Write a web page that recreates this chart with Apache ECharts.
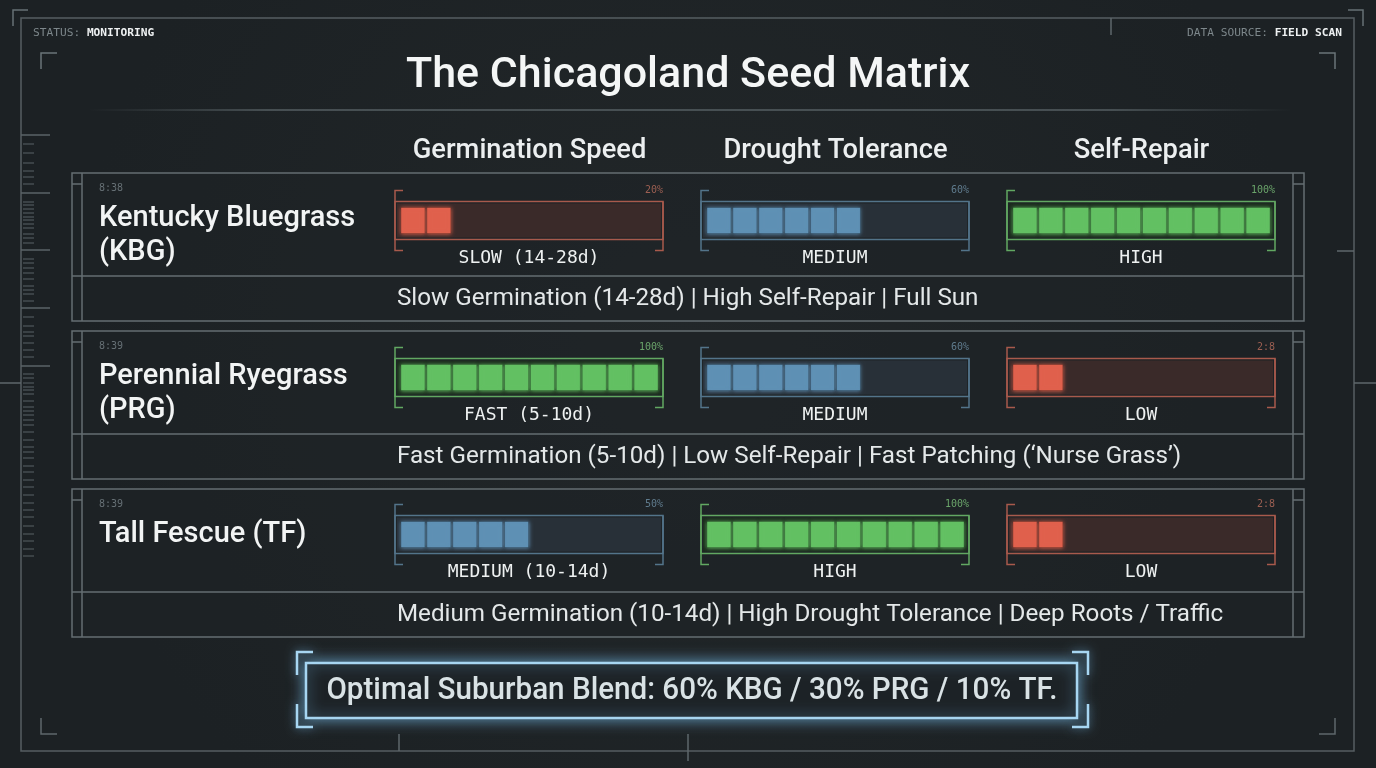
<!DOCTYPE html>
<html>
<head>
<meta charset="utf-8">
<script src="https://cdn.jsdelivr.net/npm/echarts@6.0.0/dist/echarts.min.js"></script>
<style>
html,body{margin:0;padding:0;background:#1f2427;}
#chart{width:1376px;height:768px;}
</style>
</head>
<body>
<div id="chart"></div>
<script>
// ---------- DATA ----------
const species = ['Kentucky Bluegrass\n(KBG)', 'Perennial Ryegrass\n(PRG)', 'Tall Fescue (TF)'];
const scanTimes = ['8:38', '8:39', '8:39'];
const metrics = ['Germination Speed', 'Drought Tolerance', 'Self-Repair'];
const germination = [20, 100, 50];
const drought = [60, 60, 100];
const selfRepair = [100, 20, 20];
const germinationLabels = ['SLOW (14-28d)', 'FAST (5-10d)', 'MEDIUM (10-14d)'];
const droughtLabels = ['MEDIUM', 'MEDIUM', 'HIGH'];
const selfRepairLabels = ['HIGH', 'LOW', 'LOW'];
const germinationTags = ['20%', '100%', '50%'];
const droughtTags = ['60%', '60%', '100%'];
const selfRepairTags = ['100%', '2:8', '2:8'];
const descriptions = [
  'Slow Germination (14-28d) | High Self-Repair | Full Sun',
  'Fast Germination (5-10d) | Low Self-Repair | Fast Patching (\u2018Nurse Grass\u2019)',
  'Medium Germination (10-14d) | High Drought Tolerance | Deep Roots / Traffic'
];
const blendText = 'Optimal Suburban Blend: 60% KBG / 30% PRG / 10% TF.';
const statusLabel = ['STATUS:', 'MONITORING'];
const sourceLabel = ['DATA SOURCE:', 'FIELD SCAN'];
const title = 'The Chicagoland Seed Matrix';

// ---------- STYLE ----------
const LINE = '#646e72';
const MONO = '"DejaVu Sans Mono", "Liberation Mono", monospace';
const SANS = 'Roboto, "Noto Sans", sans-serif';
const palettes = {
  low:  {seg:'#e0604c', fill:'#3a2a29', border:'#a85a4c', tag:'#9c5f52'},
  mid:  {seg:'#5e90b4', fill:'#283038', border:'#53748a', tag:'#5f7b8d'},
  high: {seg:'#62c062', fill:'#1b2a1d', border:'#62a862', tag:'#6aa46a'}
};
function paletteFor(v){ return v <= 30 ? palettes.low : (v <= 70 ? palettes.mid : palettes.high); }

const columns = [
  {values: germination, labels: germinationLabels, tags: germinationTags},
  {values: drought, labels: droughtLabels, tags: droughtTags},
  {values: selfRepair, labels: selfRepairLabels, tags: selfRepairTags}
];
const gridLefts = [400, 706, 1012];
const gridWidth = 259;
const gridTop = 142, gridHeight = 471;

const chart = echarts.init(document.getElementById('chart'), null, {renderer:'canvas'});

function makeRender(colIdx){
  const col = columns[colIdx];
  return function(params, api){
    const v = api.value(0);
    const yIdx = api.value(1);
    const p0 = api.coord([0, yIdx]);
    const p1 = api.coord([100, yIdx]);
    const cy = p0[1];
    const x0 = p0[0], x1 = p1[0];
    const pal = paletteFor(v);
    const L = x0 - 5, R = x1 + 4;
    const children = [];
    children.push({type:'rect', shape:{x:L+2, y:cy-17, width:R-L-4, height:34}, style:{fill:pal.fill}});
    children.push({type:'rect', shape:{x:L, y:cy-19, width:R-L, height:38}, style:{fill:null, stroke:pal.border, lineWidth:1.5}});
    children.push({type:'polyline', shape:{points:[[L+8,cy-30],[L,cy-30],[L,cy+30],[L+8,cy+30]]}, style:{fill:null, stroke:pal.border, lineWidth:1.5}});
    children.push({type:'polyline', shape:{points:[[R,cy-19],[R,cy+30],[R-8,cy+30]]}, style:{fill:null, stroke:pal.border, lineWidth:1.5}});
    const n = Math.round(v / 10);
    for (let i = 0; i < n; i++){
      const a = api.coord([i*10, yIdx])[0];
      const b = api.coord([(i+1)*10, yIdx])[0];
      children.push({type:'rect', shape:{x:a+1, y:cy-13, width:b-a-2, height:26},
        style:{fill:pal.seg, stroke:'rgba(0,0,0,0.25)', lineWidth:0.8, shadowBlur:4, shadowColor:pal.seg}});
    }
    children.push({type:'text', x:R, y:cy-30, style:{text:col.tags[params.dataIndex], fill:pal.tag,
      font:'10px ' + MONO, align:'right', verticalAlign:'middle'}});
    children.push({type:'text', x:(L+R)/2, y:cy+38, style:{text:col.labels[params.dataIndex], fill:'#eef1f1',
      font:'18px ' + MONO, align:'center', verticalAlign:'middle'}});
    return {type:'group', children};
  };
}

const grids = [], xAxes = [], yAxes = [], series = [];
columns.forEach((col, i) => {
  grids.push({left:gridLefts[i], top:gridTop, width:gridWidth, height:gridHeight});
  xAxes.push({type:'value', gridIndex:i, min:0, max:100, show:false});
  yAxes.push({type:'category', gridIndex:i, data:species, inverse:true, show:false});
  series.push({
    type:'custom', xAxisIndex:i, yAxisIndex:i, silent:true,
    renderItem: makeRender(i),
    data: col.values.map((v, r) => [v, r]),
    clip:false
  });
});

// ---------- DECORATION ----------
const g = [];
function line(x1,y1,x2,y2,color,w){ g.push({type:'line', shape:{x1,y1,x2,y2}, style:{stroke:color||LINE, lineWidth:w||1.5}, silent:true}); }
function poly(pts,color,w){ g.push({type:'polyline', shape:{points:pts}, style:{fill:null, stroke:color||LINE, lineWidth:w||1.5}, silent:true}); }

g.push({type:'rect', shape:{x:21, y:18, width:1333, height:733}, style:{fill:null, stroke:'#555e62', lineWidth:1.5}, silent:true});
poly([[13,26],[13,10],[28,10]], '#667074');
poly([[1348,10],[1363,10],[1363,26]], '#667074');
poly([[41,69],[41,53],[57,53]], '#6a7478');
poly([[1319,53],[1335,53],[1335,69]], '#6a7478');
poly([[41,718],[41,734],[57,734]], '#5e676b');
poly([[1319,734],[1335,734],[1335,718]], '#5e676b');
line(1111,18,1111,35,'#5e676b');
line(399,734,399,751,'#5e676b');
line(688,734,688,761,'#5e676b');
line(1337,251,1354,251,'#5e676b');
line(1354,383,1376,383,'#5e676b');
line(0,383,21,383,'#5e676b');
const longTicks = [135,193,250,308,366];
longTicks.forEach(y => line(21,y,50,y,'#5a6367',1.5));
const smallTicks = [144,153,163,171,177,184,202,205,209,213,217,220,224,228,234,238,243,259,263,268,273,279,286,290,294,301,317,326,332,336,343,350,357,374,378,383,387,390,394,401,407,411,415,420,425,432,440,447,452,458,466,472,480,487,495,503,510,517,526,534,541,549,556];
smallTicks.forEach(y => line(23,y,34,y,'#4f585c',1.2));

g.push({type:'line', shape:{x1:90, y1:110, x2:1290, y2:110}, silent:true,
  style:{lineWidth:1.5, stroke:new echarts.graphic.LinearGradient(0,0,1,0,[
    {offset:0, color:'rgba(90,100,104,0)'},{offset:0.15, color:'rgba(90,100,104,0.9)'},
    {offset:0.85, color:'rgba(90,100,104,0.9)'},{offset:1, color:'rgba(90,100,104,0)'}])}});

g.push({type:'text', x:33, y:33, silent:true, style:{
  text:'{a|' + statusLabel[0] + ' }{b|' + statusLabel[1] + '}', verticalAlign:'middle',
  rich:{a:{font:'11.2px ' + MONO, fill:'#7d878b'}, b:{font:'bold 11.2px ' + MONO, fill:'#eef1f2'}}}});
g.push({type:'text', x:1342, y:33, silent:true, style:{
  text:'{a|' + sourceLabel[0] + ' }{b|' + sourceLabel[1] + '}', verticalAlign:'middle', align:'right',
  rich:{a:{font:'11.2px ' + MONO, fill:'#7d878b'}, b:{font:'bold 11.2px ' + MONO, fill:'#eef1f2'}}}});

g.push({type:'text', x:688, y:76, silent:true, style:{text:title, font:'500 43px ' + SANS, fill:'#f4f6f6',
  align:'center', verticalAlign:'middle'}});

metrics.forEach((m, i) => {
  g.push({type:'text', x:gridLefts[i] + gridWidth/2, y:151, silent:true, style:{text:m, font:'500 27.3px ' + SANS,
    fill:'#eceff0', align:'center', verticalAlign:'middle'}});
});

species.forEach((name, r) => {
  const top = 173 + r * 158;
  const h = 148;
  g.push({type:'rect', z:-1, shape:{x:72, y:top, width:1232, height:h}, style:{fill:'rgba(30,35,39,0.6)', stroke:LINE, lineWidth:1.5}, silent:true});
  line(82, top, 82, top + h);
  line(1293, top, 1293, top + h);
  line(72, top + 11, 82, top + 11);
  line(1293, top + 11, 1304, top + 11);
  line(72, top + 103, 1304, top + 103);
  g.push({type:'text', x:99, y:top + 15, silent:true, style:{text:scanTimes[r], font:'10px ' + MONO, fill:'#667075', verticalAlign:'middle'}});
  const lines = name.split('\n');
  lines.forEach((ln, k) => {
    g.push({type:'text', x:99, y:top + 46 + k * 34, silent:true, style:{text:ln, font:'500 29px ' + SANS, fill:'#f2f4f4', verticalAlign:'middle'}});
  });
  g.push({type:'text', x:397, y:top + 126, silent:true, style:{text:descriptions[r], font:'24.2px ' + SANS, fill:'#e4e8e9', align:'left', verticalAlign:'middle'}});
});

const BC = '#a7d6f2';
g.push({type:'rect', shape:{x:306, y:663, width:771, height:55}, silent:true,
  style:{fill:'#1c2226', stroke:BC, lineWidth:2.5, shadowBlur:14, shadowColor:'rgba(120,190,235,0.75)'}});
[[ [313,652],[297,652],[297,675] ], [ [297,704],[297,727],[313,727] ], [ [1072,652],[1088,652],[1088,675] ], [ [1088,704],[1088,727],[1072,727] ]].forEach(pts => {
  g.push({type:'polyline', shape:{points:pts}, silent:true, style:{fill:null, stroke:BC, lineWidth:2.5, shadowBlur:10, shadowColor:'rgba(120,190,235,0.7)'}});
});
g.push({type:'text', x:692, y:691, silent:true, scaleX:0.955, originX:0, originY:0, style:{text:blendText, font:'500 31px ' + SANS, fill:'#d9e2e5',
  align:'center', verticalAlign:'middle'}});

chart.setOption({
  backgroundColor: new echarts.graphic.RadialGradient(0.5,0.45,0.8,[{offset:0,color:'#222729'},{offset:1,color:'#1c2124'}]),
  animation:false,
  grid: grids,
  xAxis: xAxes,
  yAxis: yAxes,
  series: series,
  graphic: g
});
</script>
</body>
</html>
